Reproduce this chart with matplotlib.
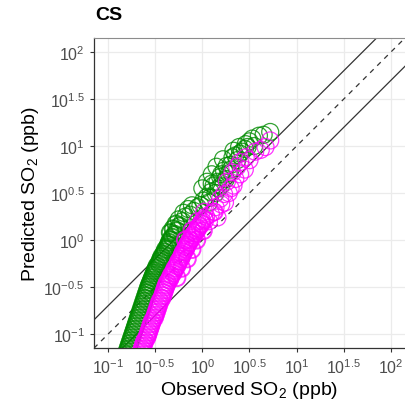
import matplotlib
matplotlib.use("Agg")
import matplotlib.pyplot as plt
import numpy as np

plt.rcParams['font.family'] = ['Liberation Sans', 'DejaVu Sans']
plt.rcParams['mathtext.fontset'] = 'custom'
plt.rcParams['mathtext.rm'] = 'Liberation Sans'
plt.rcParams['mathtext.it'] = 'Liberation Sans:italic'
plt.rcParams['mathtext.bf'] = 'Liberation Sans:bold'

# log10 values: observed (x) and predicted (y)
green_obs = [-0.86, -0.85, -0.84, -0.83, -0.82, -0.81, -0.80, -0.79, -0.78, -0.77,
             -0.76, -0.75, -0.74, -0.73, -0.72, -0.71, -0.70, -0.69, -0.68, -0.67,
             -0.66, -0.65, -0.64, -0.63, -0.62, -0.61, -0.60, -0.59, -0.58, -0.57,
             -0.56, -0.55, -0.54, -0.53, -0.52, -0.51, -0.50, -0.49, -0.48, -0.46,
             -0.45, -0.44, -0.43, -0.41, -0.40, -0.39, -0.37, -0.36, -0.35, -0.34,
             -0.32, -0.29, -0.34, -0.27, -0.31, -0.24, -0.28, -0.21, -0.25, -0.18,
             -0.13, -0.20, -0.09, -0.15, -0.05, -0.11,
             -0.02, 0.07, 0.01, 0.05, 0.09, 0.17, 0.12, 0.16, 0.19, 0.28,
             0.23, 0.26, 0.37, 0.32, 0.42, 0.33, 0.39, 0.46, 0.53, 0.60, 0.72,
             0.00, 0.05, 0.10, 0.15, 0.22,
             0.10, 0.20, 0.30, 0.35, 0.45, 0.50, 0.55, 0.65, 0.25, 0.40,
             0.14, 0.20, 0.08, 0.30, 0.48]
green_pred = [-1.37, -1.34, -1.31, -1.28, -1.25, -1.22, -1.19, -1.16, -1.13, -1.10,
              -1.07, -1.04, -1.01, -0.98, -0.95, -0.92, -0.89, -0.86, -0.83, -0.80,
              -0.77, -0.74, -0.71, -0.68, -0.65, -0.62, -0.59, -0.56, -0.53, -0.50,
              -0.475, -0.45, -0.425, -0.40, -0.375, -0.35, -0.325, -0.30, -0.275, -0.25,
              -0.225, -0.20, -0.175, -0.15, -0.125, -0.10, -0.075, -0.05, -0.025, 0.00,
              0.03, 0.06, 0.08, 0.10, 0.12, 0.15, 0.17, 0.20, 0.22, 0.25,
              0.27, 0.29, 0.31, 0.33, 0.35, 0.37,
              0.37, 0.40, 0.42, 0.46, 0.51, 0.55, 0.58, 0.62, 0.67, 0.71,
              0.74, 0.79, 0.85, 0.88, 0.94, 0.95, 0.99, 1.02, 1.08, 1.11, 1.15,
              0.55, 0.62, 0.70, 0.78, 0.86,
              0.60, 0.70, 0.80, 0.90, 0.97, 1.05, 1.00, 1.12, 0.65, 0.92,
              0.50, 0.58, 0.45, 0.75, 0.99]

magenta_obs = [-0.72, -0.71, -0.70, -0.69, -0.67, -0.66, -0.65, -0.64, -0.63, -0.62,
               -0.61, -0.59, -0.58, -0.57, -0.56, -0.55, -0.54, -0.53, -0.51, -0.50,
               -0.49, -0.48, -0.47, -0.46, -0.45, -0.43, -0.42, -0.41, -0.40, -0.39,
               -0.38, -0.37, -0.35, -0.34, -0.33, -0.31, -0.30, -0.29, -0.27, -0.26,
               -0.25, -0.23, -0.22, -0.21, -0.20, -0.18, -0.17, -0.16, -0.14, -0.13,
               -0.11, -0.10, -0.08, -0.06, -0.05, -0.03, -0.01, 0.00, 0.02, 0.04,
               -0.27, -0.22, -0.16, -0.11, -0.06, 0.01, 0.07, 0.13,
               -0.18, -0.11, -0.05, 0.02,
               0.03, 0.16, 0.09, 0.14, 0.24, 0.19, 0.23, 0.30, 0.26, 0.35,
               0.32, 0.37, 0.40, 0.46, 0.56, 0.67, 0.72,
               0.28, 0.33, 0.40, 0.45, 0.50, 0.62, 0.20, 0.12]
magenta_pred = [-1.37, -1.34, -1.31, -1.28, -1.25, -1.22, -1.19, -1.16, -1.13, -1.10,
                -1.07, -1.04, -1.01, -0.98, -0.95, -0.92, -0.89, -0.86, -0.83, -0.80,
                -0.77, -0.74, -0.71, -0.68, -0.65, -0.62, -0.59, -0.56, -0.53, -0.50,
                -0.475, -0.45, -0.425, -0.40, -0.375, -0.35, -0.325, -0.30, -0.275, -0.25,
                -0.225, -0.20, -0.175, -0.15, -0.125, -0.10, -0.075, -0.05, -0.025, 0.00,
                0.025, 0.05, 0.075, 0.10, 0.125, 0.15, 0.175, 0.20, 0.225, 0.25,
                -0.40, -0.30, -0.20, -0.10, 0.00, 0.10, 0.20, 0.30,
                0.00, 0.10, 0.20, 0.30,
                0.21, 0.24, 0.28, 0.35, 0.40, 0.44, 0.49, 0.55, 0.62, 0.65,
                0.72, 0.78, 0.83, 0.88, 0.94, 0.99, 1.06,
                0.50, 0.58, 0.70, 0.75, 0.85, 0.96, 0.38, 0.30]

tick_exps = ['-1', '-0.5', '0', '0.5', '1', '1.5', '2']
lim = (10**-1.15, 10**2.15)

fig = plt.figure(figsize=(4.05, 4.06), dpi=100)
ax = fig.add_axes([0.232, 0.140, 0.768, 0.764])

ref = np.array(lim)
ax.plot(ref, ref, color='#333333', lw=0.9, ls=(0, (4, 4)), zorder=1)
ax.plot(ref, ref * 2, color='#333333', lw=0.9, zorder=1)
ax.plot(ref, ref / 2, color='#333333', lw=0.9, zorder=1)

for obs, pred, col, z in [(green_obs, green_pred, '#008B00', 2),
                          (magenta_obs, magenta_pred, '#FF00FF', 3)]:
    obs = np.array(obs)
    pred = np.array(pred)
    # dense low end drawn with a heavier ring so the band fills in
    lw = np.where(pred < 0.2, 1.4, 0.9)
    ax.scatter(10**obs, 10**pred, s=150, facecolors='none', edgecolors=col,
               linewidths=lw, alpha=0.8, zorder=z)

ax.set_xscale('log')
ax.set_yscale('log')
ax.set_xlim(lim)
ax.set_ylim(lim)
ticks = [10**float(e) for e in tick_exps]
labels = ['$10^{%s}$' % e for e in tick_exps]
ax.set_xticks(ticks)
ax.set_xticklabels(labels)
ax.set_yticks(ticks)
ax.set_yticklabels(labels)
ax.minorticks_off()
ax.tick_params(labelsize=11.5, colors='#333333', labelcolor='#4D4D4D', length=3, width=0.8)
ax.grid(True, color='#EBEBEB', lw=0.9)
ax.set_axisbelow(True)

for side in ['left', 'bottom']:
    ax.spines[side].set_color('#333333')
    ax.spines[side].set_linewidth(0.9)
ax.spines['top'].set_color('#8C8C8C')
ax.spines['right'].set_visible(False)

ax.set_xlabel('Observed SO$_2$ (ppb)', fontsize=14, labelpad=2)
ax.set_ylabel('Predicted SO$_2$ (ppb)', fontsize=14, labelpad=2)
fig.text(0.235, 0.942, 'CS', fontsize=14, fontweight='bold', va='bottom', ha='left')

fig.savefig('out.png', dpi=100)
